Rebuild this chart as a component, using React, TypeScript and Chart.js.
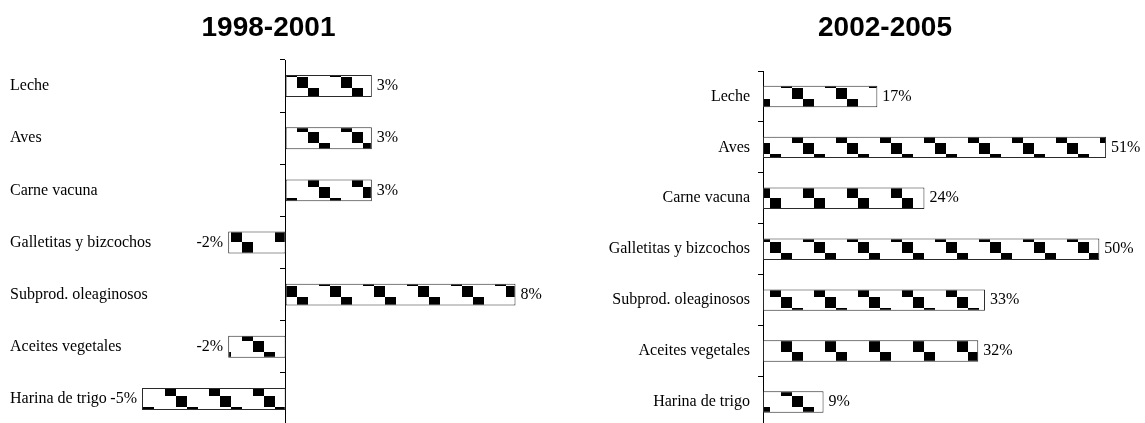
import React, { useEffect, useRef } from 'react';
import { Chart, registerables } from 'chart.js';

Chart.register(...registerables);

const categories = [
  'Leche',
  'Aves',
  'Carne vacuna',
  'Galletitas y bizcochos',
  'Subprod. oleaginosos',
  'Aceites vegetales',
  'Harina de trigo',
];
const values1998 = [3, 3, 3, -2, 8, -2, -5];
const values2002 = [17, 51, 24, 50, 33, 32, 9];
const title1998 = '1998-2001';
const title2002 = '2002-2005';

const SERIF = '"Liberation Serif", "Times New Roman", serif';
const SANS = '"Liberation Sans", Arial, sans-serif';

function makePattern(): CanvasPattern | string {
  const c = document.createElement('canvas');
  c.width = 44;
  c.height = 44;
  const g = c.getContext('2d');
  if (!g) return '#fff';
  g.fillStyle = '#fff';
  g.fillRect(0, 0, 44, 44);
  g.fillStyle = '#000';
  for (let k = 0; k < 4; k++) g.fillRect(k * 11, k * 11, 11, 11);
  return g.createPattern(c, 'repeat') || '#fff';
}

const valueLabels = {
  id: 'valueLabels',
  afterDatasetsDraw(chart: any) {
    const ctx = chart.ctx;
    const ds = chart.data.datasets[0];
    const meta = chart.getDatasetMeta(0);
    ctx.save();
    ctx.font = '16px ' + SERIF;
    ctx.fillStyle = '#000';
    ctx.textBaseline = 'middle';
    meta.data.forEach((el: any, i: number) => {
      const v = ds.data[i] as number;
      const { x, y } = el.getProps(['x', 'y'], true);
      if (v >= 0) {
        ctx.textAlign = 'left';
        ctx.fillText(v + '%', x + 5, y);
      } else {
        ctx.textAlign = 'right';
        ctx.fillText(v + '%', x - 5, y);
      }
    });
    ctx.restore();
  },
};

function baseDataset(values: number[], pattern: CanvasPattern | string) {
  return {
    data: values,
    backgroundColor: pattern,
    borderColor: '#2a2a2a',
    borderWidth: 1,
    borderSkipped: false,
    barPercentage: 0.42,
    categoryPercentage: 1,
  };
}

export default function App() {
  const leftRef = useRef<HTMLCanvasElement>(null);
  const rightRef = useRef<HTMLCanvasElement>(null);

  useEffect(() => {
    if (!leftRef.current || !rightRef.current) return;
    const pattern = makePattern();

    const left = new Chart(leftRef.current, {
      type: 'bar',
      data: { labels: categories, datasets: [baseDataset(values1998, pattern) as any] },
      plugins: [valueLabels],
      options: {
        indexAxis: 'y',
        animation: false,
        responsive: false,
        devicePixelRatio: 1,
        layout: { padding: { left: 10, right: 45, top: 0, bottom: 20 } },
        plugins: {
          legend: { display: false },
          tooltip: { enabled: false },
          title: {
            display: true,
            text: title1998,
            color: '#000',
            font: { family: SANS, size: 28, weight: 'bold' },
            padding: { top: 11, bottom: 15.4 },
          },
        },
        scales: {
          x: { type: 'linear', min: -5, max: 8.4, display: false },
          y: {
            type: 'category',
            position: 'left',
            offset: true,
            grid: { display: false },
            border: { display: false },
            ticks: {
              mirror: true,
              crossAlign: 'near',
              padding: -132,
              autoSkip: false,
              color: '#000',
              font: { family: SERIF, size: 16 },
            },
            afterFit: (s: any) => {
              s.width = 132;
            },
          },
          y2: {
            type: 'category',
            axis: 'y',
            position: { x: 0 },
            offset: true,
            grid: { offset: true, drawOnChartArea: false, tickLength: 5, color: '#000' },
            border: { display: true, color: '#000', width: 1 },
            ticks: { display: false },
          },
        } as any,
      } as any,
    });

    const right = new Chart(rightRef.current, {
      type: 'bar',
      data: { labels: categories, datasets: [baseDataset(values2002, pattern) as any] },
      plugins: [valueLabels],
      options: {
        indexAxis: 'y',
        animation: false,
        responsive: false,
        devicePixelRatio: 1,
        layout: { padding: { left: 24, right: 20, top: 0, bottom: 16 } },
        plugins: {
          legend: { display: false },
          tooltip: { enabled: false },
          title: {
            display: true,
            text: title2002,
            color: '#000',
            font: { family: SANS, size: 28, weight: 'bold' },
            padding: { top: 11, bottom: 26.4 },
          },
        },
        scales: {
          x: { type: 'linear', min: 0, max: 61.1, display: false },
          y: {
            type: 'category',
            position: 'left',
            offset: true,
            grid: { offset: true, drawOnChartArea: false, tickLength: 5, color: '#000' },
            border: { display: true, color: '#000', width: 1 },
            ticks: {
              autoSkip: false,
              padding: 8,
              color: '#000',
              font: { family: SERIF, size: 16 },
            },
            afterFit: (s: any) => {
              s.width = 167;
            },
          },
        } as any,
      } as any,
    });

    return () => {
      left.destroy();
      right.destroy();
    };
  }, []);

  return (
    <div
      style={{
        position: 'fixed',
        left: 0,
        top: 0,
        width: 1145,
        height: 423,
        overflow: 'hidden',
        background: '#fff',
      }}
    >
      <div style={{ position: 'absolute', left: 0, top: 0, width: 572, height: 445 }}>
        <canvas ref={leftRef} width={572} height={445} style={{ display: 'block' }} />
      </div>
      <div style={{ position: 'absolute', left: 572, top: 0, width: 622, height: 445 }}>
        <canvas ref={rightRef} width={622} height={445} style={{ display: 'block' }} />
      </div>
    </div>
  );
}
